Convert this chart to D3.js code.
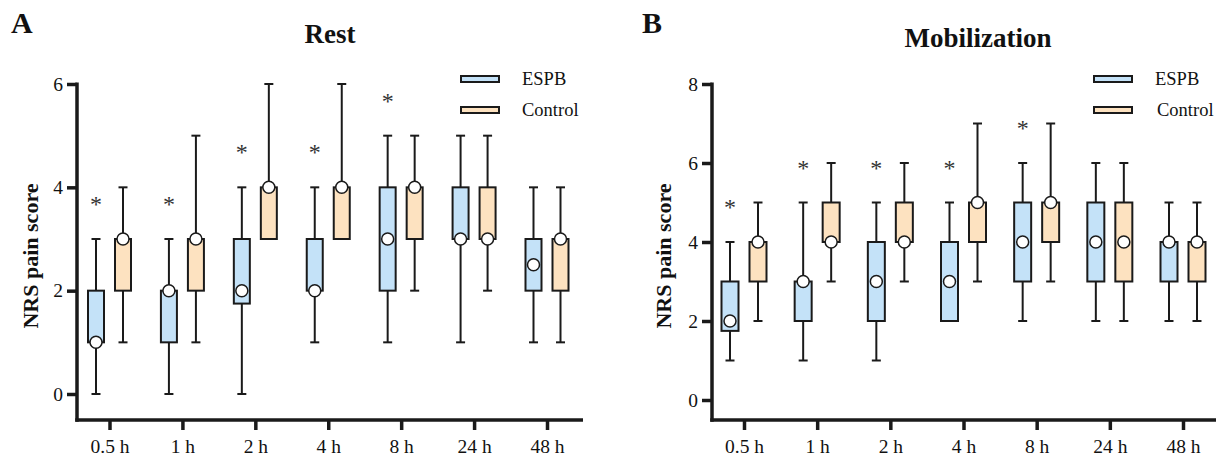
<!DOCTYPE html>
<html>
<head>
<meta charset="utf-8">
<script src="https://cdn.jsdelivr.net/npm/d3@7"></script>
<style>
  body { margin: 0; background: #fff; }
  text { font-family: "Liberation Serif", "Times New Roman", serif; fill: #111; }
</style>
</head>
<body>
<script>
// time points after surgery
const timepoints = ['0.5 h', '1 h', '2 h', '4 h', '8 h', '24 h', '48 h'];

// box stats per time point: [min, q1, median, q3, max]
const restEspb = [[0,1,1,2,3],[0,1,2,2,3],[0,1.75,2,3,4],[1,2,2,3,4],[1,2,3,4,5],[1,3,3,4,5],[1,2,2.5,3,4]];
const restControl = [[1,2,3,3,4],[1,2,3,3,5],[3,3,4,4,6],[3,3,4,4,6],[2,3,4,4,5],[2,3,3,4,5],[1,2,3,3,4]];
const mobEspb = [[1,1.75,2,3,4],[1,2,3,3,5],[1,2,3,4,5],[2,2,3,4,5],[2,3,4,5,6],[2,3,4,5,6],[2,3,4,4,5]];
const mobControl = [[2,3,4,4,5],[3,4,4,5,6],[3,4,4,5,6],[3,4,5,5,7],[3,4,5,5,7],[2,3,4,5,6],[2,3,4,4,5]];

// significance markers (ESPB vs Control)
const restSig = [true, true, true, true, true, false, false];
const mobSig = [true, true, true, true, true, false, false];

const restTicks = [0, 2, 4, 6];
const mobTicks = [0, 2, 4, 6, 8];

const groups = ['ESPB', 'Control'];
const colors = {ESPB: '#c4e2f8', Control: '#fde2c0'};
const ink = '#1a1a1a';
const serif = '"Liberation Serif", "Times New Roman", serif';

const svg = d3.select('body').append('svg')
  .attr('width', 1220)
  .attr('height', 457)
  .style('font-family', serif);

function drawPanel(cfg){
  const g = svg.append('g');

  const x = d3.scalePoint().domain(timepoints).range([cfg.xFirst, cfg.xLast]);
  const y = d3.scaleLinear().domain([0, cfg.yMax]).range([cfg.yZero, cfg.yTop]);

  // letter + title
  g.append('text').attr('x', cfg.letterX).attr('y', 33)
    .style('font-size', '30px').style('font-weight', 'bold').text(cfg.letter);
  g.append('text').attr('x', cfg.titleX).attr('y', cfg.titleY)
    .attr('text-anchor', 'middle')
    .style('font-size', '27px').style('font-weight', 'bold').text(cfg.title);

  // y label
  g.append('text')
    .attr('transform', `translate(${cfg.labelX},256) rotate(-90)`)
    .attr('text-anchor', 'middle')
    .attr('dominant-baseline', 'central')
    .style('font-size', '22px').style('font-weight', 'bold')
    .text('NRS pain score');

  // axes
  const yAxis = g.append('g')
    .attr('transform', `translate(${cfg.axisX},0)`)
    .call(d3.axisLeft(y).tickValues(cfg.ticks).tickFormat(d3.format('d')).tickSize(10).tickPadding(4));
  const xAxis = g.append('g')
    .attr('transform', `translate(0,${cfg.baseY})`)
    .call(d3.axisBottom(x).tickSize(10).tickPadding(9));
  [yAxis, xAxis].forEach(a => {
    a.attr('font-family', null);
    a.select('.domain').remove();
    a.selectAll('line').attr('stroke', ink).attr('stroke-width', 3.5);
    a.selectAll('text').style('font-size', '19.5px')
      .style('font-family', serif).attr('fill', ink);
  });
  g.append('line')
    .attr('x1', cfg.axisX).attr('x2', cfg.axisX)
    .attr('y1', cfg.yTop - 1.5).attr('y2', cfg.baseY + 1.75)
    .attr('stroke', ink).attr('stroke-width', 3.5);
  g.append('line')
    .attr('x1', cfg.axisX - 1.75).attr('x2', cfg.axisEnd)
    .attr('y1', cfg.baseY).attr('y2', cfg.baseY)
    .attr('stroke', ink).attr('stroke-width', 3.5);

  // boxes
  const series = [cfg.espb, cfg.control];
  series.forEach((vals, gi) => {
    const off = gi === 0 ? -cfg.offset : cfg.offset;
    const bw = cfg.boxW;
    const item = g.append('g').selectAll('g').data(vals).enter().append('g')
      .attr('transform', (d, i) => `translate(${x(timepoints[i]) + off},0)`);

    item.append('line')
      .attr('y1', d => y(d[0])).attr('y2', d => y(d[4]))
      .attr('stroke', ink).attr('stroke-width', 2);
    item.append('line')
      .attr('x1', -cfg.capW / 2).attr('x2', cfg.capW / 2)
      .attr('y1', d => y(d[0])).attr('y2', d => y(d[0]))
      .attr('stroke', ink).attr('stroke-width', 2);
    item.append('line')
      .attr('x1', -cfg.capW / 2).attr('x2', cfg.capW / 2)
      .attr('y1', d => y(d[4])).attr('y2', d => y(d[4]))
      .attr('stroke', ink).attr('stroke-width', 2);
    item.append('rect')
      .attr('x', -bw / 2).attr('width', bw)
      .attr('y', d => y(d[3])).attr('height', d => y(d[1]) - y(d[3]))
      .attr('fill', colors[groups[gi]])
      .attr('stroke', ink).attr('stroke-width', 2);
    item.append('circle')
      .attr('cy', d => y(d[2])).attr('r', 6)
      .attr('fill', '#fff')
      .attr('stroke', ink).attr('stroke-width', 1.5);
  });

  // asterisks above the ESPB whisker
  cfg.sig.forEach((s, i) => {
    if (!s) return;
    g.append('text')
      .attr('x', x(timepoints[i]) - cfg.offset)
      .attr('y', y(cfg.espb[i][4]) - 38 + 11)
      .attr('text-anchor', 'middle')
      .style('font-size', '24px')
      .style('fill', '#333')
      .text('*');
  });

  // legend
  groups.forEach((name, i) => {
    const ly = 79 + i * 31;
    g.append('rect')
      .attr('x', cfg.legendX).attr('y', ly - 3)
      .attr('width', 38).attr('height', 6)
      .attr('fill', colors[name]).attr('stroke', ink).attr('stroke-width', 2);
    g.append('text')
      .attr('x', cfg.legendX + 61 + (i ? cfg.legendShift : 0)).attr('y', ly)
      .attr('dominant-baseline', 'central')
      .style('font-size', '18.5px')
      .text(name);
  });
}

drawPanel({
  letter: 'A', letterX: 11, title: 'Rest', titleX: 330, titleY: 43, labelX: 30,
  espb: restEspb, control: restControl, sig: restSig, ticks: restTicks, yMax: 6,
  axisX: 77, axisEnd: 583, baseY: 420, yZero: 394, yTop: 84,
  xFirst: 109.5, xLast: 547, offset: 13.5, boxW: 16, capW: 9,
  legendX: 461, legendShift: 0
});

drawPanel({
  letter: 'B', letterX: 642, title: 'Mobilization', titleX: 978, titleY: 47, labelX: 663,
  espb: mobEspb, control: mobControl, sig: mobSig, ticks: mobTicks, yMax: 8,
  axisX: 712, axisEnd: 1216, baseY: 420, yZero: 400, yTop: 84,
  xFirst: 744, xLast: 1183, offset: 14, boxW: 17, capW: 9,
  legendX: 1094, legendShift: 2
});
</script>
</body>
</html>
